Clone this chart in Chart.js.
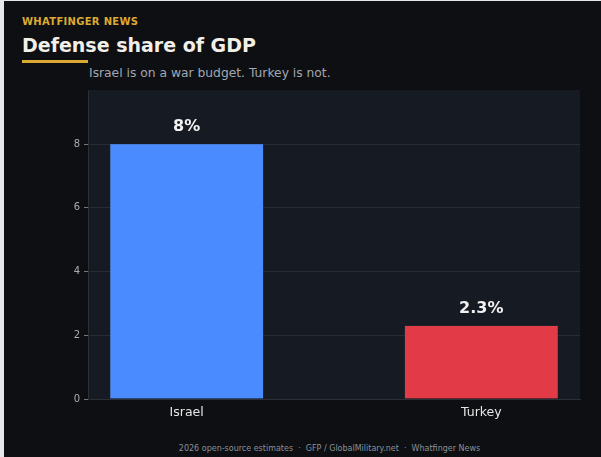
<!DOCTYPE html>
<html>
<head>
<meta charset="utf-8">
<script src="https://cdn.jsdelivr.net/npm/chart.js@4"></script>
<style>
  body { margin: 0; background: #e6e7ea; width: 601px; height: 457px; overflow: hidden; font-family: "DejaVu Sans", sans-serif; }
  #frame { position: absolute; left: 4px; top: 1px; width: 597px; height: 456px; background: #0d0f13; }
  .kicker { position: absolute; left: 18px; top: 15px; color: #dcaa32; font-size: 10px; font-weight: bold; letter-spacing: 0.3px; }
  .title { position: absolute; left: 18px; top: 33px; color: #f2efe8; font-size: 19px; font-weight: bold; }
  .rule { position: absolute; left: 18px; top: 59px; width: 66px; height: 3px; background: #dcaa32; }
  .sub { position: absolute; left: 85px; top: 65px; color: #a3a7b1; font-size: 12.3px; }
  .foot { position: absolute; left: 54px; width: 543px; top: 443px; text-align: center; color: #8c9099; font-size: 8px; }
  #wrap { position: absolute; left: -4px; top: 79px; width: 601px; height: 346px; }
</style>
</head>
<body>
<div id="frame">
  <div class="kicker">WHATFINGER NEWS</div>
  <div class="title">Defense share of GDP</div>
  <div class="rule"></div>
  <div class="sub">Israel is on a war budget. Turkey is not.</div>
  <div id="wrap"><canvas id="chart"></canvas></div>
  <div class="foot">2026 open-source estimates &nbsp;·&nbsp; GFP / GlobalMilitary.net &nbsp;·&nbsp; Whatfinger News</div>
</div>
<script>
const countries = ['Israel', 'Turkey'];
const sharePct = [8, 2.3];
const valueLabels = ['8%', '2.3%'];
const barColors = ['#4a8cff', '#e23a47'];
const yTicks = [0, 2, 4, 6, 8];

const plotBg = {
    id: 'plotBg',
    beforeDraw(chart) {
        const { ctx, chartArea: a } = chart;
        ctx.save();
        ctx.fillStyle = '#161a22';
        ctx.fillRect(a.left, a.top, a.right - a.left, a.bottom - a.top);
        ctx.restore();
    }
};

const valueText = {
    id: 'valueText',
    afterDatasetsDraw(chart) {
        const { ctx } = chart;
        const meta = chart.getDatasetMeta(0);
        ctx.save();
        ctx.fillStyle = '#f2f2f2';
        ctx.font = 'bold 16px "DejaVu Sans"';
        ctx.textAlign = 'center';
        ctx.textBaseline = 'bottom';
        meta.data.forEach((bar, i) => {
            ctx.fillText(valueLabels[i], bar.x, bar.y - 9);
        });
        ctx.restore();
    }
};

new Chart(document.getElementById('chart'), {
    type: 'bar',
    data: {
        datasets: [{
            data: sharePct.map((v, i) => ({ x: i, y: v })),
            backgroundColor: barColors,
            borderColor: 'rgba(255,255,255,0.15)',
            borderWidth: 0.5,
            barThickness: 153
        }]
    },
    options: {
        responsive: true,
        maintainAspectRatio: false,
        animation: false,
        layout: { padding: { top: 9, right: 21, left: 0, bottom: 0 } },
        plugins: { legend: { display: false }, tooltip: { enabled: false } },
        scales: {
            x: {
                type: 'linear',
                offset: false,
                bounds: 'ticks',
                min: -0.335,
                max: 1.335,
                afterBuildTicks: axis => { axis.ticks = countries.map((c, i) => ({ value: i })); },
                afterFit: axis => { axis.height = 27; },
                ticks: { color: '#e6e6e6', font: { size: 12.5, family: 'DejaVu Sans' }, padding: 2, callback: v => countries[v] },
                grid: { display: false, drawTicks: true, tickLength: 4, color: '#555' },
                border: { color: '#2a2f38' }
            },
            y: {
                min: 0,
                max: 9.7,
                afterBuildTicks: axis => { axis.ticks = yTicks.map(v => ({ value: v })); },
                afterFit: axis => { axis.width = 88; },
                ticks: { color: '#a8acb5', font: { size: 10, family: 'DejaVu Sans' }, padding: 4 },
                grid: { color: '#262b34', tickLength: 4, tickColor: '#777' },
                border: { color: '#2a2f38' }
            }
        }
    },
    plugins: [plotBg, valueText]
});
</script>
</body>
</html>
